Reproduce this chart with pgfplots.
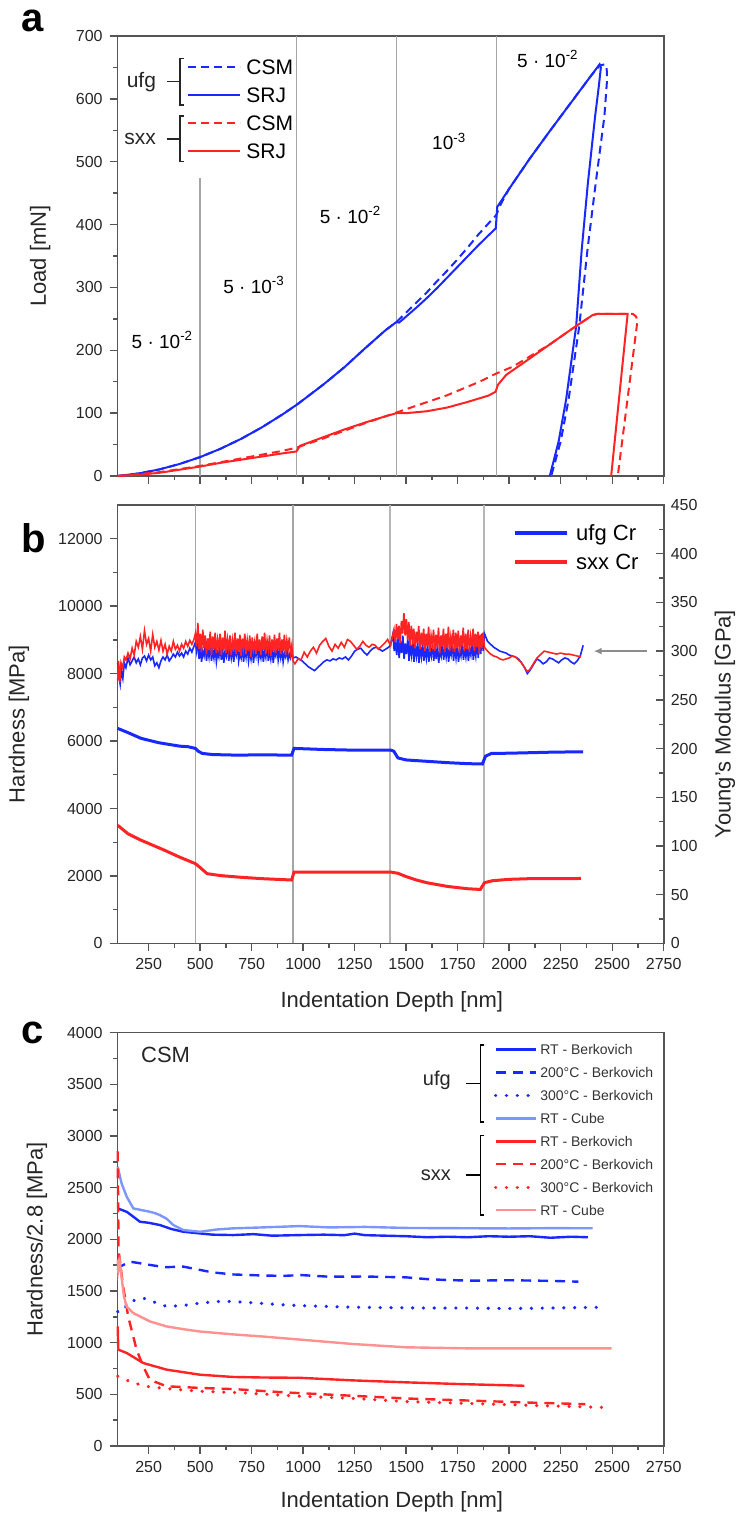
\documentclass[border=0pt]{standalone}
\usepackage{fontspec}
\setmainfont{Liberation Sans}
\usepackage{pgfplots}
\pgfplotsset{compat=1.18}
\usetikzlibrary{arrows.meta}

\definecolor{cBlue}{RGB}{25,40,255}
\definecolor{cRed}{RGB}{255,35,35}
\definecolor{cLBlue}{RGB}{125,150,255}
\definecolor{cLRed}{RGB}{255,145,145}
\definecolor{cFrame}{RGB}{85,85,85}
\definecolor{cVline}{RGB}{165,165,165}

\pgfplotsset{
  panel/.style={
    scale only axis, width=273pt, xmin=100, xmax=2750,
    xtick={250,500,...,2750}, minor x tick num=1, minor y tick num=1,
    scaled ticks=false,
    tick pos=left, tick align=outside,
    axis line style={cFrame, line width=0.8pt},
    every tick/.style={cFrame, line width=0.7pt},
    major tick length=4pt, minor tick length=2.2pt,
    tick label style={font=\fontsize{8}{9}\selectfont, text=black!85},
    label style={font=\fontsize{11}{13}\selectfont, text=black!85},
    /pgf/number format/assume math mode=true,
    /pgf/number format/1000 sep={},
    clip=false,
  },
  vline/.style={cVline, line width=0.6pt, forget plot},
}

\begin{document}
\begin{tikzpicture}
\useasboundingbox (0,0) rectangle (369.5pt,-757.5pt);

% ---------------- a: load vs depth
\begin{axis}[panel, at={(58.85pt,-18pt)}, anchor=north west, height=220pt,
  ymin=0, ymax=700, ytick={0,100,...,700}, xticklabels={},
  ylabel={Load [mN]},
  ylabel style={at={(axis description cs:-0.142,0.5)}, anchor=center},
  legend image code/.code={\draw[#1] (0pt,0pt) -- (26pt,0pt);},
  legend cell align=left,
  legend style={draw=none, fill=none, at={(axis description cs:0.1264,0.962)},
    anchor=north west, inner sep=0pt, outer sep=0pt, row sep=0pt,
    font=\fontsize{10.5}{12}\selectfont,
    nodes={inner sep=0pt, text height=10.8pt, text depth=3.25pt},
    /tikz/every odd column/.append style={column sep=2.85pt}}]
\addplot[vline] coordinates {(499,0)(499,474)};
\addplot[vline] coordinates {(967,0)(967,700)};
\addplot[vline] coordinates {(1453,0)(1453,700)};
\addplot[vline] coordinates {(1937,0)(1937,700)};

\addplot[cBlue, line width=1pt, dash pattern=on 4pt off 2.5pt] coordinates {
(100,0)(200,4)(300,10.3)(400,19.1)(500,30.1)(600,43.5)(700,59.3)(800,77.5)
(900,98)(967,113)(1000,121)(1100,146)(1200,173)(1300,203)(1400,232)(1453,245)
(1500,260)(1550,276)(1600,292)(1650,310)(1700,327)(1750,345)(1800,364)(1850,384)
(1900,402)(1937,415)(1960,433)(2000,457)(2100,505)(2200,550)(2300,594)(2400,638)
(2440,653)(2465,655)(2473,651)(2475,630)(2462,572)(2420,466)(2380,360)(2340,238)
(2288,121)(2250,55)(2204,0)};
\addlegendentry{CSM}
\addplot[cBlue, line width=1pt] coordinates {
(100,0)(200,4)(300,10.3)(400,19.1)(500,30.1)(600,43.5)(700,59.3)(800,77.5)
(900,98)(967,113)(1000,121)(1100,146)(1200,173)(1300,203)(1400,232)(1453,245)
(1465,244)(1480,248)(1550,268)(1600,283)(1650,299)(1700,316)(1750,333)(1800,350)
(1850,367)(1900,383)(1935,394)(1942,428)(2000,457)(2100,505)(2200,550)(2300,594)
(2400,638)(2439,655)(2445,650)(2435,620)(2417,572)(2382,466)(2352,360)(2325,238)
(2276,121)(2240,55)(2197,0)};
\addlegendentry{SRJ}
\addplot[cRed, line width=1pt, dash pattern=on 4pt off 2.5pt] coordinates {
(100,0)(200,3)(300,6)(400,11)(499,16)(600,22)(700,28)(800,34)(900,40)(967,45)
(1100,60)(1200,72)(1300,84)(1400,95)(1453,101)(1533,110)(1614,119)(1695,128)
(1776,139)(1856,150)(1937,163)(2018,174)(2099,190)(2200,210)(2300,233)(2405,256)
(2430,258)(2600,258)(2615,254)(2623,248)(2527,0)};
\addlegendentry{CSM}
\addplot[cRed, line width=1pt] coordinates {
(100,0)(200,2)(300,5)(400,10)(499,15)(600,21)(700,26)(800,31)(900,36)(967,39)
(985,48)(1100,62)(1200,74)(1300,85)(1400,95)(1453,100)(1500,100)(1600,103)
(1700,109)(1800,118)(1900,128)(1934,134)(1945,145)(1986,161)(2100,187)(2200,210)
(2300,233)(2405,256)(2430,258)(2575,258)(2495,0)};
\addlegendentry{SRJ}

\begin{scope}[font=\fontsize{9.5}{11}\selectfont]
\node at (axis cs:317,216) {5 · 10\textsuperscript{-2}};
\node at (axis cs:762,304) {5 · 10\textsuperscript{-3}};
\node at (axis cs:1230,415) {5 · 10\textsuperscript{-2}};
\node at (axis cs:1709,532) {10\textsuperscript{-3}};
\node at (axis cs:2188,664) {5 · 10\textsuperscript{-2}};
\end{scope}
\begin{scope}[black!85, line width=0.6pt]
\draw ([xshift=2pt]axis description cs:0.114,0.949) -- (axis description cs:0.114,0.949)
  -- (axis description cs:0.114,0.843) -- ([xshift=2pt]axis description cs:0.114,0.843);
\draw ([xshift=2pt]axis description cs:0.114,0.818) -- (axis description cs:0.114,0.818)
  -- (axis description cs:0.114,0.714) -- ([xshift=2pt]axis description cs:0.114,0.714);
\draw (axis description cs:0.0897,0.896) -- (axis description cs:0.114,0.896);
\draw (axis description cs:0.0897,0.766) -- (axis description cs:0.114,0.766);
\end{scope}
\node[anchor=east, font=\fontsize{10.5}{12}\selectfont, text=black!85] at (axis description cs:0.083,0.896) {ufg};
\node[anchor=east, font=\fontsize{10.5}{12}\selectfont, text=black!85] at (axis description cs:0.083,0.766) {sxx};
\end{axis}

% ---------------- b: hardness (left) and modulus (right)
\begin{axis}[panel, at={(58.85pt,-252.5pt)}, anchor=north west, height=219.2pt,
  ymin=0, ymax=13000, ytick={0,2000,...,12000},
  xlabel={Indentation Depth [nm]}, ylabel={Hardness [MPa]},
  xlabel style={at={(axis description cs:0.502,-0.134)}, anchor=center},
  ylabel style={at={(axis description cs:-0.181,0.5)}, anchor=center}]
\addplot[vline] coordinates {(477,0)(477,13000)};
\addplot[vline] coordinates {(951,0)(951,13000)};
\addplot[vline, line width=1pt, cVline!80] coordinates {(1424,0)(1424,13000)};
\addplot[vline, line width=1pt, cVline!80] coordinates {(1880,0)(1880,13000)};
\addplot[cBlue, line width=1.5pt, forget plot] coordinates {
(100,6376)(150,6250)(214,6079)(300,5950)(400,5850)(442,5832)(477,5782)(490,5700)
(511,5634)(560,5600)(671,5584)(800,5590)(944,5584)(956,5782)(1100,5750)(1250,5730)
(1424,5733)(1440,5700)(1460,5500)(1500,5440)(1600,5400)(1700,5360)(1800,5330)
(1870,5320)(1885,5550)(1914,5634)(2000,5640)(2200,5670)(2359,5683)};
\addplot[cRed, line width=1.5pt, forget plot] coordinates {
(100,3503)(150,3250)(214,3058)(328,2761)(400,2560)(477,2365)(500,2250)(534,2068)
(600,2010)(700,1960)(800,1920)(944,1880)(956,2117)(1200,2117)(1424,2117)(1460,2080)
(1500,1980)(1550,1880)(1600,1800)(1700,1690)(1800,1620)(1860,1600)(1880,1800)
(1920,1860)(2000,1900)(2100,1920)(2348,1925)};
\end{axis}

\begin{axis}[scale only axis, width=273pt, height=219.2pt,
  at={(58.85pt,-252.5pt)}, anchor=north west,
  xmin=100, xmax=2750, ymin=0, ymax=450, clip=false,
  axis x line=none, axis y line*=right,
  ytick={0,50,...,450}, minor y tick num=1, tick align=inside,
  axis line style={cFrame, line width=0.8pt},
  every tick/.style={cFrame, line width=0.7pt},
  major tick length=4pt, minor tick length=2.2pt,
  tick label style={font=\fontsize{8}{9}\selectfont, text=black!85},
  label style={font=\fontsize{11}{13}\selectfont, text=black!85},
  /pgf/number format/assume math mode=true,
  ylabel={Young's Modulus [GPa]},
  ylabel style={at={(axis description cs:1.112,0.5)}, anchor=center},
  legend image code/.code={\draw[#1, line width=2pt] (0pt,0pt) -- (26pt,0pt);},
  legend cell align=left,
  legend style={draw=none, fill=none, at={(axis description cs:0.7244,0.969)},
    anchor=north west, inner sep=0pt, outer sep=0pt, row sep=0pt,
    font=\fontsize{11}{13}\selectfont,
    nodes={inner sep=0pt, text height=11.2pt, text depth=3.3pt},
    /tikz/every odd column/.append style={column sep=3.5pt}}]
\addplot[cBlue, line width=0.8pt] coordinates {
(100,288)(106,274)(112,266)(118,280)(125,272)(132,288)(140,283)(150,293)(160,286)
(170,290)(180,294)(190,288)(200,292)(210,286)(220,293)(230,295)(240,290)(250,296)
(260,291)(270,294)(280,285)(290,288)(300,283)(310,290)(320,294)(330,291)(340,296)
(350,290)(360,293)(370,297)(380,294)(390,299)(400,295)(410,298)(420,294)(430,300)
(440,297)(450,303)(460,299)(470,305)(477,309)
(483,300)(489,312)(495,292)(501,305)(507,289)(513,300)(519,295)(525,306)(531,290)
(537,302)(543,294)(549,308)(555,290)(561,301)(567,293)(573,305)(579,289)(585,299)
(591,294)(597,307)(603,291)(609,303)(615,288)(621,300)(627,295)(633,309)(639,290)
(645,302)(651,293)(657,304)(663,289)(669,301)(675,296)(681,307)(687,290)(693,298)
(699,293)(705,305)(711,289)(717,302)(723,294)(729,306)(735,290)(741,300)(747,292)
(753,304)(759,288)(765,301)(771,295)(777,307)(783,291)(789,299)(795,293)(801,304)
(807,289)(813,301)(819,294)(825,308)(831,290)(837,300)(843,292)(849,305)(855,288)
(861,299)(867,295)(873,306)(879,291)(885,300)(891,293)(897,303)(903,289)(909,298)
(915,294)(921,302)(927,291)(933,297)(939,293)(945,299)(951,293)
(965,294)(980,292)(995,290)(1010,287)(1025,284)(1040,282)(1055,280)(1070,283)
(1085,286)(1100,289)(1115,291)(1130,290)(1145,292)(1160,291)(1175,293)(1190,292)
(1205,294)(1220,291)(1235,295)(1250,300)(1265,302)(1280,303)(1295,299)(1310,296)
(1325,300)(1340,303)(1355,304)(1370,302)(1385,300)(1400,302)(1415,304)(1424,306)
(1430,312)(1436,318)(1442,300)(1448,312)(1454,296)(1460,314)(1466,293)(1472,310)
(1478,298)(1484,316)(1490,292)(1496,308)(1502,297)(1508,313)(1514,290)(1520,306)
(1526,296)(1532,311)(1538,289)(1544,305)(1550,295)(1556,309)(1562,288)(1568,304)
(1574,294)(1580,308)(1586,290)(1592,303)(1598,293)(1604,307)(1610,289)(1616,302)
(1622,295)(1628,308)(1634,290)(1640,304)(1646,292)(1652,306)(1658,288)(1664,301)
(1670,295)(1676,309)(1682,291)(1688,303)(1694,294)(1700,307)(1706,289)(1712,302)
(1718,296)(1724,308)(1730,290)(1736,304)(1742,293)(1748,306)(1754,289)(1760,301)
(1766,295)(1772,309)(1778,291)(1784,303)(1790,294)(1796,307)(1802,290)(1808,302)
(1814,296)(1820,310)(1826,291)(1832,304)(1838,295)(1844,312)(1850,293)(1856,316)
(1862,297)(1868,318)(1874,300)(1880,318)
(1895,310)(1910,307)(1925,304)(1940,302)(1955,300)(1970,299)(1985,298)(2000,296)
(2015,295)(2030,294)(2045,292)(2060,288)(2075,283)(2088,277)(2100,280)(2120,287)
(2135,292)(2150,290)(2165,287)(2180,289)(2195,293)(2210,292)(2225,290)(2240,288)
(2255,291)(2270,293)(2285,292)(2300,289)(2315,287)(2330,290)(2345,295)(2359,306)};
\addlegendentry{ufg Cr}
\addplot[cRed, line width=0.8pt] coordinates {
(100,270)(104,290)(110,268)(116,288)(124,283)(132,294)(140,291)(150,298)(160,292)
(170,303)(180,296)(190,310)(200,304)(210,315)(220,302)(230,321)(240,307)(250,313)
(260,300)(270,317)(280,304)(290,310)(300,301)(310,311)(320,300)(330,307)(340,297)
(350,305)(360,300)(370,310)(380,302)(390,306)(400,300)(410,307)(420,303)(430,310)
(440,305)(450,311)(460,307)(470,312)(477,318)
(483,305)(489,329)(495,302)(501,318)(507,299)(513,322)(519,303)(525,316)(531,297)
(537,313)(543,301)(549,320)(555,296)(561,315)(567,302)(573,319)(579,298)(585,312)
(591,303)(597,318)(603,296)(609,314)(615,301)(621,321)(627,298)(633,312)(639,302)
(645,316)(651,296)(657,311)(663,301)(669,319)(675,297)(681,313)(687,300)(693,317)
(699,295)(705,313)(711,303)(717,318)(723,297)(729,311)(735,300)(741,316)(747,294)
(753,314)(759,302)(765,310)(771,297)(777,318)(783,300)(789,312)(795,296)(801,315)
(807,301)(813,319)(819,297)(825,311)(831,302)(837,316)(843,295)(849,312)(855,300)
(861,317)(867,298)(873,313)(879,301)(885,319)(891,297)(897,312)(903,300)(909,317)
(915,296)(921,311)(927,302)(933,314)(939,298)(945,306)(951,290)
(960,287)(975,292)(990,291)(1005,299)(1020,294)(1035,300)(1050,304)(1065,298)
(1080,306)(1095,310)(1110,313)(1125,305)(1140,300)(1155,307)(1170,303)(1185,309)
(1200,304)(1215,312)(1230,310)(1245,306)(1260,302)(1275,305)(1290,310)(1305,306)
(1320,304)(1335,307)(1350,306)(1365,302)(1380,305)(1395,308)(1410,312)(1424,306)
(1435,316)(1441,322)(1447,309)(1453,328)(1459,312)(1465,326)(1471,308)(1477,331)
(1483,318)(1489,339)(1495,316)(1501,333)(1507,312)(1513,330)(1519,306)(1525,326)
(1531,312)(1537,323)(1543,303)(1549,320)(1555,308)(1561,326)(1567,302)(1573,319)
(1579,306)(1585,323)(1591,300)(1597,318)(1603,305)(1609,325)(1615,299)(1621,316)
(1627,307)(1633,322)(1639,300)(1645,317)(1651,304)(1657,324)(1663,298)(1669,316)
(1675,305)(1681,323)(1687,299)(1693,318)(1699,303)(1705,325)(1711,300)(1717,315)
(1723,306)(1729,322)(1735,299)(1741,319)(1747,303)(1753,321)(1759,298)(1765,316)
(1771,305)(1777,324)(1783,300)(1789,318)(1795,302)(1801,322)(1807,299)(1813,315)
(1819,305)(1825,323)(1831,300)(1837,318)(1843,304)(1849,320)(1855,298)(1861,317)
(1867,303)(1873,319)(1880,304)
(1895,300)(1910,297)(1925,295)(1940,294)(1955,292)(1970,291)(1985,292)(2000,293)
(2015,295)(2030,294)(2045,291)(2060,288)(2075,283)(2088,279)(2100,281)(2120,288)
(2135,293)(2150,296)(2170,300)(2190,299)(2210,298)(2230,297)(2250,298)(2270,297)
(2290,297)(2310,296)(2330,295)(2348,294)};
\addlegendentry{sxx Cr}
\draw[-{Latex[length=4pt,width=3.5pt]}, black!45, line width=0.8pt]
  (axis cs:2668,300) -- (axis cs:2410,300);
\end{axis}

% ---------------- c: hardness/2.8
\begin{axis}[panel, at={(58.85pt,-516.3pt)}, anchor=north west, height=206.7pt,
  ymin=0, ymax=4000, ytick={0,500,...,4000},
  xlabel={Indentation Depth [nm]}, ylabel={Hardness/2.8 [MPa]},
  xlabel style={at={(axis description cs:0.502,-0.1355)}, anchor=center},
  ylabel style={at={(axis description cs:-0.148,0.5)}, anchor=center},
  legend image code/.code={\draw[#1] (0pt,0pt) -- (20pt,0pt);},
  legend cell align=left,
  legend style={draw=none, fill=none, at={(axis description cs:0.689,0.987)},
    anchor=north west, inner sep=0pt, outer sep=0pt, row sep=0pt,
    font=\fontsize{7}{8}\selectfont, text=black!80,
    nodes={inner sep=0pt, text height=8.24pt, text depth=3.24pt},
    /tikz/every odd column/.append style={column sep=1.5pt}}]
\addplot[cBlue, line width=1.2pt] coordinates {
(100,2299)(144,2266)(175,2220)(208,2170)(250,2160)(305,2138)(360,2100)(418,2073)
(499,2057)(560,2045)(660,2041)(760,2050)(850,2035)(983,2041)(1100,2045)(1200,2040)
(1250,2055)(1300,2040)(1400,2035)(1500,2030)(1600,2020)(1700,2025)(1800,2020)
(1900,2030)(2000,2025)(2100,2030)(2200,2015)(2300,2025)(2382,2020)};
\addlegendentry{RT - Berkovich}
\addplot[cBlue, line width=1.2pt, dash pattern=on 5pt off 3.5pt] coordinates {
(100,1700)(111,1736)(160,1784)(257,1752)(330,1730)(418,1736)(499,1704)(560,1680)
(660,1660)(800,1650)(903,1646)(990,1654)(1127,1638)(1300,1640)(1500,1632)(1600,1615)
(1700,1606)(1812,1600)(2000,1604)(2200,1598)(2336,1590)};
\addlegendentry{200°C - Berkovich}
\addplot[cBlue, line width=1.7pt, line cap=round, dash pattern=on 0.1pt off 5.3pt] coordinates {
(100,1300)(112,1290)(160,1398)(224,1431)(337,1350)(420,1360)(499,1383)(600,1400)
(660,1398)(800,1380)(903,1366)(990,1358)(1200,1345)(1355,1340)(1600,1335)(1812,1335)
(2000,1330)(2200,1335)(2428,1342)};
\addlegendentry{300°C - Berkovich}
\addplot[cLBlue, line width=1.2pt] coordinates {
(100,2703)(119,2540)(144,2411)(176,2299)(257,2266)(283,2252)(305,2234)(337,2200)
(370,2138)(418,2090)(499,2073)(580,2095)(660,2106)(800,2115)(983,2128)(1127,2115)
(1300,2120)(1500,2110)(1812,2107)(2000,2105)(2200,2108)(2405,2107)};
\addlegendentry{RT - Cube}
\addplot[cRed, line width=1.2pt] coordinates {
(100,1157)(103,932)(144,900)(224,803)(337,739)(499,690)(660,668)(800,663)(983,660)
(1241,635)(1500,616)(1750,600)(2074,583)};
\addlegendentry{RT - Berkovich}
\addplot[cRed, line width=1.2pt, dash pattern=on 5pt off 3.5pt] coordinates {
(100,2850)(102,2400)(104,1900)(125,1560)(151,1253)(192,930)(224,770)(256,640)
(337,578)(499,562)(670,550)(900,520)(1200,490)(1500,460)(1800,440)(2100,420)(2370,405)};
\addlegendentry{200°C - Berkovich}
\addplot[cRed, line width=1.7pt, line cap=round, dash pattern=on 0.1pt off 5.3pt] coordinates {
(100,674)(176,610)(257,571)(400,545)(499,530)(700,515)(1000,480)(1250,460)(1500,430)
(1750,415)(2000,400)(2250,385)(2462,373)};
\addlegendentry{300°C - Berkovich}
\addplot[cLRed, line width=1.2pt] coordinates {
(100,1804)(103,1700)(110,1780)(118,1650)(130,1450)(143,1350)(176,1286)(257,1205)
(337,1157)(420,1130)(499,1108)(660,1080)(800,1060)(983,1030)(1241,987)(1500,955)
(1800,945)(2100,945)(2497,945)};
\addlegendentry{RT - Cube}

\node[anchor=west, font=\fontsize{11}{13}\selectfont, text=black!85] at (axis description cs:0.03,0.946) {CSM};
\begin{scope}[black, line width=0.6pt]
\draw ([xshift=2pt]axis description cs:0.664,0.970) -- (axis description cs:0.664,0.970)
  -- (axis description cs:0.664,0.784) -- ([xshift=2pt]axis description cs:0.664,0.784);
\draw ([xshift=2pt]axis description cs:0.664,0.752) -- (axis description cs:0.664,0.752)
  -- (axis description cs:0.664,0.559) -- ([xshift=2pt]axis description cs:0.664,0.559);
\draw (axis description cs:0.638,0.877) -- (axis description cs:0.664,0.877);
\draw (axis description cs:0.638,0.6555) -- (axis description cs:0.664,0.6555);
\end{scope}
\node[anchor=east, font=\fontsize{10}{12}\selectfont, text=black!85] at (axis description cs:0.623,0.885) {ufg};
\node[anchor=east, font=\fontsize{10}{12}\selectfont, text=black!85] at (axis description cs:0.623,0.6555) {sxx};
\end{axis}

\node[anchor=base west, font=\fontsize{20}{24}\selectfont\bfseries] at (7pt,-16pt) {a};
\node[anchor=base west, font=\fontsize{20}{24}\selectfont\bfseries] at (7pt,-276pt) {b};
\node[anchor=base west, font=\fontsize{20}{24}\selectfont\bfseries] at (7pt,-521.5pt) {c};
\end{tikzpicture}
\end{document}
